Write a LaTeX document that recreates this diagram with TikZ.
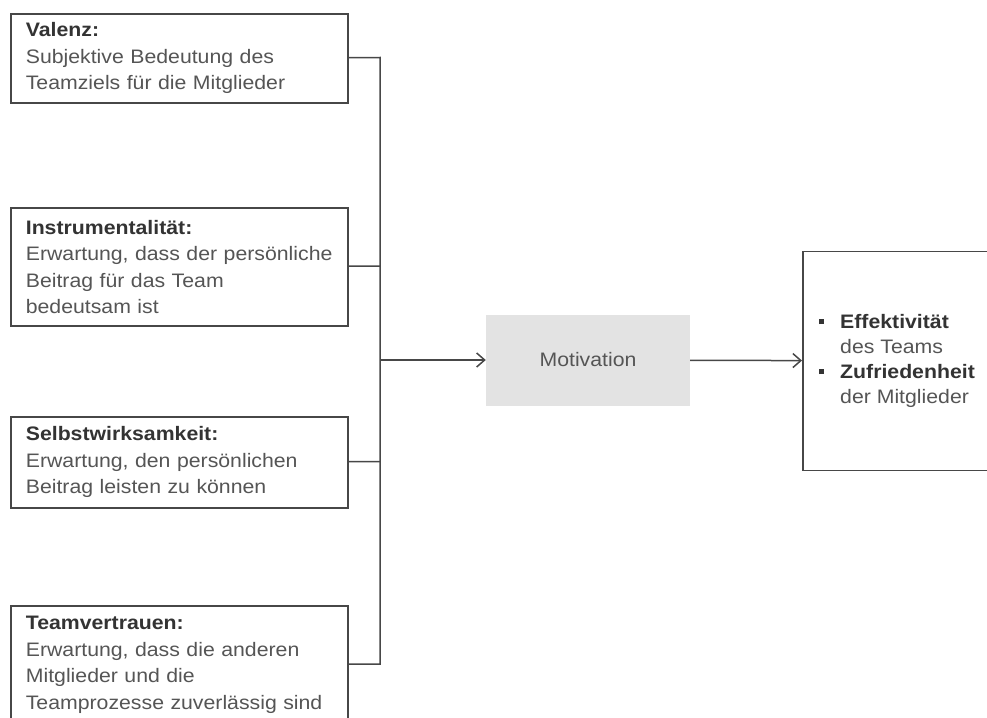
\documentclass[tikz,border=0pt]{standalone}
\usepackage{fontspec}
\setmainfont[FakeStretch=1.09]{Liberation Sans}
\usepackage{xcolor}
\usepackage{tikz}
\usetikzlibrary{arrows.meta}
\definecolor{linegray}{HTML}{474747}
\definecolor{textgray}{HTML}{555555}
\definecolor{headgray}{HTML}{333333}
\definecolor{motivefill}{HTML}{E3E3E3}
\newcommand{\factorhead}[1]{\textcolor{headgray}{\textbf{#1}}}
\newcommand{\outbullet}{\makebox[21pt][l]{\raisebox{4.5pt}{\textcolor{headgray}{\rule{5pt}{5pt}}}}}
\pgfdeclarelayer{nodelayer}
\pgfdeclarelayer{edgelayer}
\pgfsetlayers{edgelayer,nodelayer,main}
\tikzstyle{factor}=[fill=white, draw=linegray, line width=1.7pt, shape=rectangle, anchor=north west, text width=307pt, inner xsep=15pt, align=left, text=textgray, font=\fontsize{19.5}{26.5}\selectfont]
\tikzstyle{motive}=[fill=motivefill, draw=none, shape=rectangle, minimum width=204pt, minimum height=91pt, text=textgray, font=\fontsize{19.5}{26}\selectfont]
\tikzstyle{outcome}=[fill=white, draw=linegray, line width=1.7pt, shape=rectangle, anchor=north west, minimum width=200pt, minimum height=219pt]
\tikzstyle{outcome text}=[anchor=west, inner sep=0pt, align=left, text=textgray, font=\fontsize{19.5}{25}\selectfont]
\tikzstyle{junction}=[fill=none, draw=none, shape=coordinate]
\tikzstyle{bus edge}=[draw=linegray, line width=1.5pt]
\tikzstyle{arrow edge}=[draw=linegray, line width=1.5pt, -{Straight Barb[length=8pt, width=14pt, line width=1.5pt]}]

\begin{document}
\begin{tikzpicture}[x=1pt, y=-1pt]
	\useasboundingbox (0, 0) rectangle (987, 717);
	\begin{pgfonlayer}{nodelayer}
		\node [style=factor, minimum height=89pt] (0) at (10, 13) {\factorhead{Valenz:}\\Subjektive Bedeutung des\\Teamziels für die Mitglieder};
		\node [style=factor, minimum height=118pt] (1) at (10, 207) {\factorhead{Instrumentalität:}\\Erwartung, dass der persönliche\\Beitrag für das Team\\bedeutsam ist};
		\node [style=factor, minimum height=91pt] (2) at (10, 416) {\factorhead{Selbstwirksamkeit:}\\Erwartung, den persönlichen\\Beitrag leisten zu können};
		\node [style=factor, minimum height=118pt] (3) at (10, 605) {\factorhead{Teamvertrauen:}\\Erwartung, dass die anderen\\Mitglieder und die\\Teamprozesse zuverlässig sind};
		\node [style=motive] (4) at (588, 360) {Motivation};
		\node [style=outcome] (5) at (802, 250.5) {};
		\node [style=outcome text] (6) at (819, 361) {\outbullet\factorhead{Effektivität}\\\hspace*{21pt}des Teams\\\outbullet\factorhead{Zufriedenheit}\\\hspace*{21pt}der Mitglieder};
		\node [style=junction] (7) at (380, 57.5) {};
		\node [style=junction] (8) at (380, 266) {};
		\node [style=junction] (9) at (380, 461.5) {};
		\node [style=junction] (10) at (380, 664) {};
		\node [style=junction] (11) at (380, 360) {};
	\end{pgfonlayer}
	\begin{pgfonlayer}{edgelayer}
		\draw [style=bus edge] (0) -- (7) -- (10) -- (3);
		\draw [style=bus edge] (1) -- (8);
		\draw [style=bus edge] (2) -- (9);
		\draw [style=arrow edge] (11) to (4);
		\draw [style=arrow edge] (4) to (5);
	\end{pgfonlayer}
\end{tikzpicture}
\end{document}
